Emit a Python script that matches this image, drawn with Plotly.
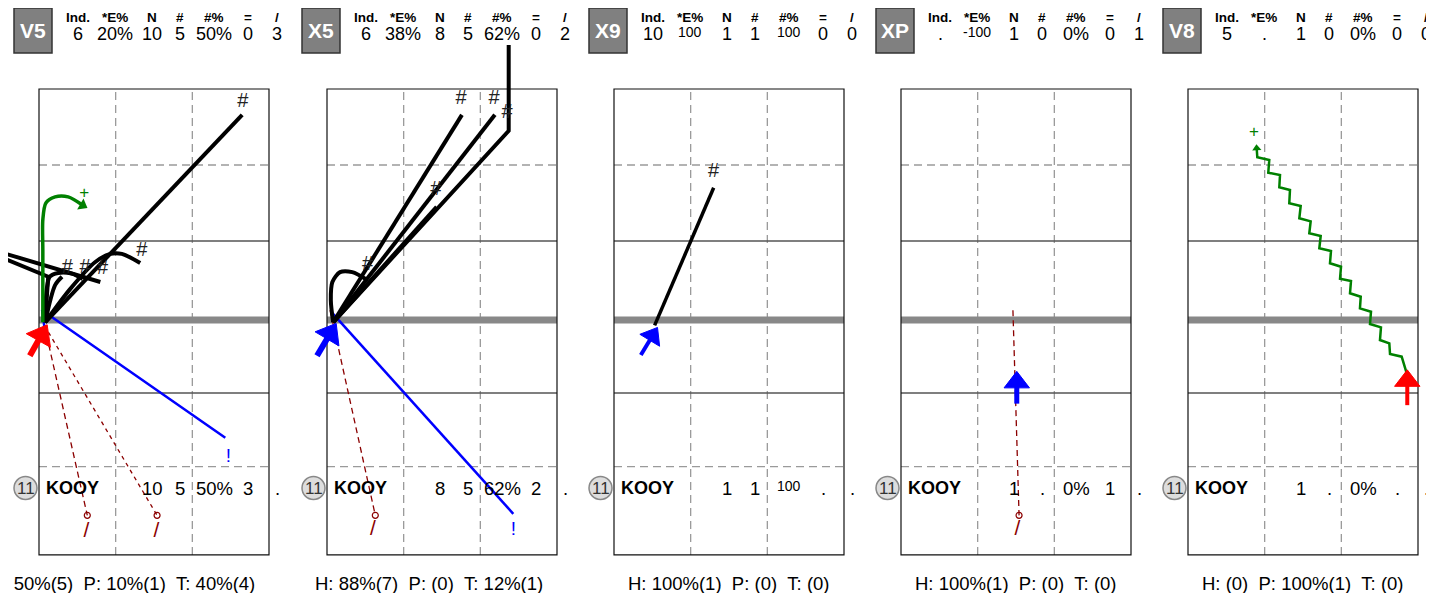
import plotly.graph_objects as go

PAGE_W, PAGE_H = 1434, 593
OFF = 8  # default page margin of the html body
W, H = PAGE_W - OFF, PAGE_H - OFF
FONT = "Liberation Sans, Arial, sans-serif"

# ---------------- header / table data ----------------
CODES = ["V5", "X5", "X9", "XP", "V8"]
COL_HEADERS = ["Ind.", "*E%", "N", "#", "#%", "=", "/"]
IND = ["6", "6", "10", ".", "5"]
EPCT = ["20%", "38%", "100", "-100", "."]
NUM = ["10", "8", "1", "1", "1"]
HASH = ["5", "5", "1", "0", "0"]
HPCT = ["50%", "62%", "100", "0%", "0%"]
EQ = ["0", "0", "0", "0", "0"]
SLASH = ["3", "2", "0", "1", "0"]

PLAYER_NUM = "11"
PLAYER_NAME = "KOOY"
ROW_N = ["10", "8", "1", "1", "1"]
ROW_HASH = ["5", "5", "1", ".", "."]
ROW_HPCT = ["50%", "62%", "100", "0%", "0%"]
ROW_EQ = ["3", "2", ".", "1", "."]
ROW_SLASH = [".", ".", ".", ".", "."]

SUMMARY = [
    "H: 50%(5)  P: 10%(1)  T: 40%(4)",
    "H: 88%(7)  P: (0)  T: 12%(1)",
    "H: 100%(1)  P: (0)  T: (0)",
    "H: 100%(1)  P: (0)  T: (0)",
    "H: (0)  P: 100%(1)  T: (0)",
]

# ---------------- field grid (field units) ----------------
FIELD_X = [0, 3]
FIELD_Y = [-3.13, 3.0]
V_GRID = [1, 2]
H_GRID_DASHED = [2, -1.97]
H_GRID_SOLID = [1, -1]
LOS_Y = -0.04

# ---------------- routes (field units: x 0..3 across, LOS = 0) ----------------
# Panel V5
V5_BLACK = [
    [(0.08, -0.07), (2.65, 2.66)],
    [(0.08, -0.07), (0.40, 0.36), (0.73, 0.72), (0.93, 0.83), (1.08, 0.83), (1.32, 0.71)],
    [(0.08, -0.07), (0.10, 0.36), (0.14, 0.53), (0.25, 0.58), (0.43, 0.57), (0.57, 0.50)],
    [(0.08, -0.07), (0.12, 0.53), (-1.06, 1.02), (0.80, 0.46)],
    [(0.08, -0.07), (0.21, 0.42), (0.30, 0.53)],
]
V5_BLACK_SMOOTH = [False, True, True, False, True]
V5_HASH_LABELS = [(2.66, 2.83), (1.34, 0.87), (0.60, 0.64), (0.83, 0.63), (0.37, 0.64)]
V5_BLUE = [(0.07, -0.13), (0.04, 0.09), (2.43, -1.59)]
V5_BLUE_LABEL = (2.47, -1.84)
V5_GREEN = [(0.05, -0.07), (0.05, 0.88), (0.05, 1.28), (0.09, 1.50), (0.21, 1.58), (0.38, 1.58), (0.57, 1.47)]
V5_GREEN_LABEL = (0.59, 1.62)
V5_BROWN = [
    [(0.07, -0.11), (0.63, -2.61)],
    [(0.07, -0.11), (1.54, -2.61)],
]
V5_BROWN_SLASH = [(0.62, -2.82), (1.53, -2.82)]
V5_ARROW = [(-0.12, -0.51), (0.03, -0.24)]

# Panel X5
X5_BLACK = [
    [(0.08, -0.07), (0.05, 0.22), (0.07, 0.46), (0.17, 0.59), (0.33, 0.59), (0.52, 0.49)],
    [(0.08, -0.07), (1.76, 2.66)],
    [(0.08, -0.07), (2.19, 2.66)],
    [(0.08, -0.07), (2.37, 2.45), (2.37, 3.58)],
    [(0.08, -0.07), (1.43, 1.45)],
]
X5_BLACK_SMOOTH = [True, False, False, False, False]
X5_HASH_LABELS = [(0.53, 0.68), (1.75, 2.87), (2.18, 2.87), (2.35, 2.68), (1.42, 1.67)]
X5_BLUE = [(0.07, 0.05), (2.43, -2.59)]
X5_BLUE_LABEL = (2.43, -2.80)
X5_BROWN = [[(0.04, 0.09), (0.63, -2.61)]]
X5_BROWN_SLASH = [(0.60, -2.80)]
X5_ARROW = [(-0.13, -0.51), (0.04, -0.22)]

# Panel X9
X9_BLACK = [[(0.53, -0.11), (1.30, 1.70)]]
X9_HASH_LABELS = [(1.30, 1.91)]
X9_ARROW = [(0.35, -0.50), (0.50, -0.25)]

# Panel XP
XP_BROWN = [[(1.46, 0.09), (1.54, -2.61)]]
XP_BROWN_SLASH = [(1.52, -2.80)]
XP_ARROW = [(1.51, -1.14), (1.51, -0.86)]

# Panel V8 (green wavy route)
V8_GREEN_X = [2.853, 2.787, 2.635, 2.626, 2.504, 2.517, 2.374, 2.387, 2.243, 2.253, 2.113, 2.126,
              1.983, 1.996, 1.852, 1.865, 1.713, 1.731, 1.582, 1.600, 1.452, 1.470, 1.321, 1.330,
              1.191, 1.200, 1.047, 1.060, 0.904, 0.896]
V8_GREEN_Y = [-0.741, -0.522, -0.487, -0.346, -0.303, -0.136, -0.092, 0.070, 0.114, 0.267, 0.312, 0.474,
              0.504, 0.662, 0.707, 0.868, 0.904, 1.066, 1.101, 1.259, 1.299, 1.461, 1.496, 1.671,
              1.707, 1.868, 1.899, 2.066, 2.101, 2.220]
V8_GREEN_LABEL = (0.86, 2.42)
V8_ARROW = [(2.86, -1.16), (2.86, -0.84)]

# ---------------- layout constants (page pixels) ----------------
PANEL_LEFT_PX = [39, 327, 614, 901, 1188]
PANEL_W_PX = 230
PX_PER_X = PANEL_W_PX / 3.0
PX_PER_Y = 76.0
LOS_PX = 317.0
HDR_OFF = [64, 101, 138, 166, 200, 234, 263]

BLACK = "#000000"
BLUE = "#0000ff"
RED = "#ff0000"
GREEN = "#008000"
BROWN = "#8b0000"

fig = go.Figure()
shapes = []
annotations = []


def xy(pts):
    return [p[0] for p in pts], [p[1] for p in pts]


def px2paper(x, y):
    return (x - OFF) / W, 1 - (y - OFF) / H


for i in range(5):
    L = PANEL_LEFT_PX[i]
    n = i + 1
    xname = "x" if n == 1 else f"x{n}"
    yname = "y" if n == 1 else f"y{n}"
    d0 = max(OFF, L - 38)
    d1 = min(PAGE_W, L + 246)
    t0, t1 = 40, 562
    fig.update_layout({
        ("xaxis" if n == 1 else f"xaxis{n}"): dict(
            domain=[(d0 - OFF) / W, (d1 - OFF) / W],
            range=[(d0 - L) / PX_PER_X, (d1 - L) / PX_PER_X], visible=False, anchor=yname, fixedrange=True),
        ("yaxis" if n == 1 else f"yaxis{n}"): dict(
            domain=[1 - (t1 - OFF) / H, 1 - (t0 - OFF) / H],
            range=[(LOS_PX - t1) / PX_PER_Y, (LOS_PX - t0) / PX_PER_Y], visible=False, anchor=xname,
            fixedrange=True),
    })
    # grid
    for gx in V_GRID:
        shapes.append(dict(type="line", xref=xname, yref=yname, x0=gx, x1=gx, y0=FIELD_Y[0], y1=FIELD_Y[1],
                           line=dict(color="#9a9a9a", width=1.3, dash="8px,5px"), layer="below"))
    for gy in H_GRID_DASHED:
        shapes.append(dict(type="line", xref=xname, yref=yname, x0=FIELD_X[0], x1=FIELD_X[1], y0=gy, y1=gy,
                           line=dict(color="#9a9a9a", width=1.3, dash="8px,5px"), layer="below"))
    for gy in H_GRID_SOLID:
        shapes.append(dict(type="line", xref=xname, yref=yname, x0=FIELD_X[0], x1=FIELD_X[1], y0=gy, y1=gy,
                           line=dict(color="#555555", width=1.5), layer="below"))
    shapes.append(dict(type="line", xref=xname, yref=yname, x0=FIELD_X[0], x1=FIELD_X[1], y0=LOS_Y, y1=LOS_Y,
                       line=dict(color="#888888", width=7), layer="below"))
    shapes.append(dict(type="rect", xref=xname, yref=yname, x0=FIELD_X[0], x1=FIELD_X[1],
                       y0=FIELD_Y[0], y1=FIELD_Y[1], line=dict(color="#111111", width=1.2), layer="below"))

    # header box
    bl = L - 25
    bx0, by1 = px2paper(bl, 8)
    bx1, by0 = px2paper(bl + 38, 53)
    shapes.append(dict(type="rect", xref="paper", yref="paper", x0=bx0, x1=bx1, y0=by0, y1=by1,
                       fillcolor="#808080", line=dict(color="#333333", width=1.5)))
    cx, cy = px2paper(bl + 19, 31)
    annotations.append(dict(x=cx, y=cy, xref="paper", yref="paper", text=f"<b>{CODES[i]}</b>", showarrow=False,
                            font=dict(family=FONT, size=21, color="white"), xanchor="center", yanchor="middle"))
    header_vals = [IND, EPCT, NUM, HASH, HPCT, EQ, SLASH]
    row_vals = [None, None, ROW_N, ROW_HASH, ROW_HPCT, ROW_EQ, ROW_SLASH]
    for k, lab in enumerate(COL_HEADERS):
        hx, hy = px2paper(bl + HDR_OFF[k], 17.5)
        annotations.append(dict(x=hx, y=hy, xref="paper", yref="paper", text=f"<b>{lab}</b>", showarrow=False,
                                font=dict(family=FONT, size=13.5, color="black"), xanchor="center",
                                yanchor="middle", borderpad=0))
        v = header_vals[k][i]
        small = v in ("100", "-100")
        vx, vy = px2paper(bl + HDR_OFF[k], 32.5 if small else 34.5)
        annotations.append(dict(x=vx, y=vy, xref="paper", yref="paper", text=v, showarrow=False,
                                font=dict(family=FONT, size=14 if small else 18, color="black"),
                                xanchor="center", yanchor="middle", borderpad=0))
        if row_vals[k] is not None:
            rv = row_vals[k][i]
            small = rv in ("100", "-100")
            rx, ry = px2paper(bl + HDR_OFF[k], 486 if small else 488)
            annotations.append(dict(x=rx, y=ry, xref="paper", yref="paper", text=rv, showarrow=False,
                                    font=dict(family=FONT, size=14 if small else 18.5, color="black"),
                                    xanchor="center", yanchor="middle"))
    # player row
    ccx = L - 13.5
    c0x, c0y = px2paper(ccx - 11.5, 499.5)
    c1x, c1y = px2paper(ccx + 11.5, 476.5)
    shapes.append(dict(type="circle", xref="paper", yref="paper", x0=c0x, x1=c1x, y0=c0y, y1=c1y,
                       fillcolor="#dddddd", line=dict(color="#888888", width=1.5)))
    tx, ty = px2paper(ccx, 488)
    annotations.append(dict(x=tx, y=ty, xref="paper", yref="paper", text=PLAYER_NUM, showarrow=False,
                            font=dict(family=FONT, size=17, color="#333333"), xanchor="center", yanchor="middle"))
    kx, ky = px2paper(L + 5, 488)
    annotations.append(dict(x=kx, y=ky, xref="paper", yref="paper", text=f"<b>{PLAYER_NAME}</b>", showarrow=False,
                            font=dict(family=FONT, size=18, color="black"), xanchor="left", yanchor="middle"))
    # summary
    sx, sy = px2paper(L + PANEL_W_PX - 12, 583)
    annotations.append(dict(x=sx, y=sy, xref="paper", yref="paper",
                            text=SUMMARY[i].replace("  ", "\u00a0\u00a0"), showarrow=False,
                            font=dict(family=FONT, size=18.5, color="black"), xanchor="right", yanchor="middle"))


def add_line(pts, ax, color, width, dash=None, smooth=False):
    x, y = xy(pts)
    fig.add_trace(go.Scatter(x=x, y=y, mode="lines", xaxis=ax[0], yaxis=ax[1], hoverinfo="skip",
                             line=dict(color=color, width=width, dash=dash,
                                       shape="spline" if smooth else "linear", smoothing=0.8)))


def add_text(pts, ax, text, color, size):
    x, y = xy(pts)
    fig.add_trace(go.Scatter(x=x, y=y, mode="text", text=[text] * len(x), xaxis=ax[0], yaxis=ax[1],
                             textfont=dict(family=FONT, size=size, color=color), cliponaxis=False,
                             hoverinfo="skip"))


def add_arrow(pts, ax, color, width, head):
    x, y = xy(pts)
    fig.add_trace(go.Scatter(x=x, y=y, mode="lines+markers", xaxis=ax[0], yaxis=ax[1], hoverinfo="skip",
                             line=dict(color=color, width=width),
                             marker=dict(symbol="triangle-up", size=[0] * (len(x) - 1) + [head], color=color,
                                         opacity=1, angleref="previous", line=dict(width=1, color=color))))


def add_brown(routes, slashes, ax):
    dashes = ["6px,4px", "4px,4px"]
    for j, r in enumerate(routes):
        add_line(r, ax, BROWN, 1.3, dash=dashes[j % 2])
        fig.add_trace(go.Scatter(x=[r[-1][0]], y=[r[-1][1]], mode="markers", xaxis=ax[0], yaxis=ax[1],
                                 hoverinfo="skip",
                                 marker=dict(symbol="circle-open", size=6, color=BROWN, line=dict(width=1.2))))
    add_text(slashes, ax, "/", BROWN, 21)


A1, A2, A3, A4, A5 = ("x", "y"), ("x2", "y2"), ("x3", "y3"), ("x4", "y4"), ("x5", "y5")

# V5
add_brown(V5_BROWN, V5_BROWN_SLASH, A1)
add_line(V5_BLUE, A1, BLUE, 2.5)
add_text([V5_BLUE_LABEL], A1, "!", BLUE, 19)
for r, s in zip(V5_BLACK, V5_BLACK_SMOOTH):
    add_line(r, A1, BLACK, 4, smooth=s)
add_text(V5_HASH_LABELS, A1, "#", "#222222", 20)
gx, gy = xy(V5_GREEN)
fig.add_trace(go.Scatter(x=gx, y=gy, mode="lines+markers", xaxis="x", yaxis="y", hoverinfo="skip",
                         line=dict(color=GREEN, width=3.5, shape="spline", smoothing=0.8),
                         marker=dict(symbol="triangle-up", size=[0] * (len(gx) - 1) + [11], color=GREEN,
                                     opacity=1, angleref="previous", line=dict(width=0))))
add_text([V5_GREEN_LABEL], A1, "+", GREEN, 17)
add_arrow(V5_ARROW, A1, RED, 6, 24)

# X5
add_brown(X5_BROWN, X5_BROWN_SLASH, A2)
add_line(X5_BLUE, A2, BLUE, 2.5)
add_text([X5_BLUE_LABEL], A2, "!", BLUE, 19)
for r, s in zip(X5_BLACK, X5_BLACK_SMOOTH):
    add_line(r, A2, BLACK, 4, smooth=s)
add_text(X5_HASH_LABELS, A2, "#", "#222222", 20)
add_arrow(X5_ARROW, A2, BLUE, 6, 24)

# X9
for r in X9_BLACK:
    add_line(r, A3, BLACK, 3.5)
add_text(X9_HASH_LABELS, A3, "#", "#222222", 20)
add_arrow(X9_ARROW, A3, BLUE, 4, 20)

# XP
add_brown(XP_BROWN, XP_BROWN_SLASH, A4)
add_arrow(XP_ARROW, A4, BLUE, 5, 22)

# V8
fig.add_trace(go.Scatter(x=V8_GREEN_X, y=V8_GREEN_Y, mode="lines+markers", xaxis="x5", yaxis="y5",
                         hoverinfo="skip", line=dict(color=GREEN, width=2.5),
                         marker=dict(symbol="triangle-up", size=[0] * (len(V8_GREEN_X) - 1) + [8], color=GREEN,
                                     opacity=1, angleref="previous", line=dict(width=0))))
add_text([V8_GREEN_LABEL], A5, "+", GREEN, 17)
add_arrow(V8_ARROW, A5, RED, 4, 22)

fig.update_layout(width=W, height=H, margin=dict(l=0, r=0, t=0, b=0), showlegend=False,
                  paper_bgcolor="white", plot_bgcolor="white", shapes=shapes, annotations=annotations,
                  font=dict(family=FONT))

fig.write_html("out.html")
